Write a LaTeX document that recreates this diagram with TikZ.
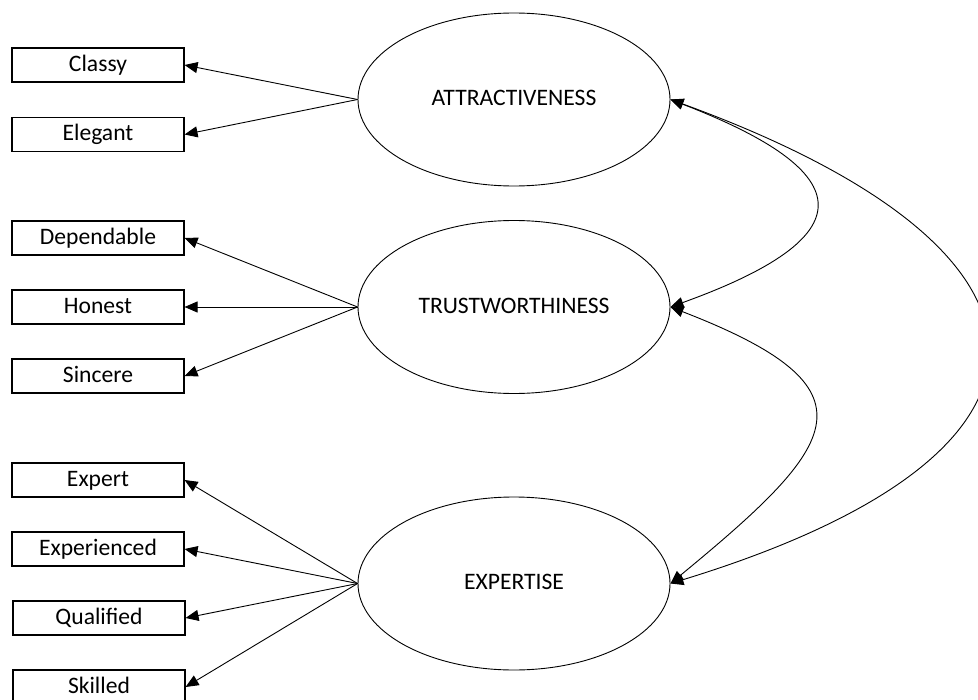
\documentclass[tikz,border=0pt]{standalone}
\usepackage{fontspec}
\setmainfont{Carlito}
\usetikzlibrary{arrows.meta,shapes.geometric}
\begin{document}
\begin{tikzpicture}[x=0.5pt,y=-0.5pt,
  every node/.style={font=\fontsize{11.8}{14}\selectfont, text height=0.644em, text depth=0pt},
  obs/.style={draw, line width=0.55pt, rectangle, minimum width=86pt, minimum height=17pt, inner sep=0pt},
  lat/.style={draw, line width=0.45pt, ellipse, minimum width=156pt, minimum height=86.5pt, inner sep=0pt},
  tip/.tip={Triangle[length=6.5pt,width=5.5pt]},
  load/.style={line width=0.45pt, -tip},
  cov/.style={line width=0.45pt, tip-tip}
]
\useasboundingbox (0,0) rectangle (978,700);
% latent variables
\node[lat] (attr) at (514,99.5) {ATTRACTIVENESS};
\node[lat] (trust) at (514,307) {TRUSTWORTHINESS};
\node[lat] (exp) at (514,583.5) {EXPERTISE};
% observed variables
\node[obs] (classy) at (98,65) {Classy};
\node[obs] (elegant) at (98,134.5) {Elegant};
\node[obs] (dep) at (98,238) {Dependable};
\node[obs] (hon) at (98,307) {Honest};
\node[obs] (sin) at (98,376) {Sincere};
\node[obs] (expert) at (98,480) {Expert};
\node[obs] (expd) at (98,549) {Experienced};
\node[obs] (qual) at (99,618) {Qualified};
\node[obs] (skill) at (99,687) {Skilled};
% loadings
\draw[load] (attr.west) -- (classy.east);
\draw[load] (attr.west) -- (elegant.east);
\draw[load] (trust.west) -- (dep.east);
\draw[load] (trust.west) -- (hon.east);
\draw[load] (trust.west) -- (sin.east);
\draw[load] (exp.west) -- (expert.east);
\draw[load] (exp.west) -- (expd.east);
\draw[load] (exp.west) -- (qual.east);
\draw[load] (exp.west) -- (skill.east);
% covariances
\draw[cov] (attr.east) .. controls +(192,74) and +(194,-70) .. (trust.east);
\draw[cov] (trust.east) .. controls +(212,82) and +(170,-140) .. (exp.east);
\draw[cov] (attr.east) .. controls +(417,152) and +(425,-130) .. (exp.east);
\end{tikzpicture}
\end{document}
